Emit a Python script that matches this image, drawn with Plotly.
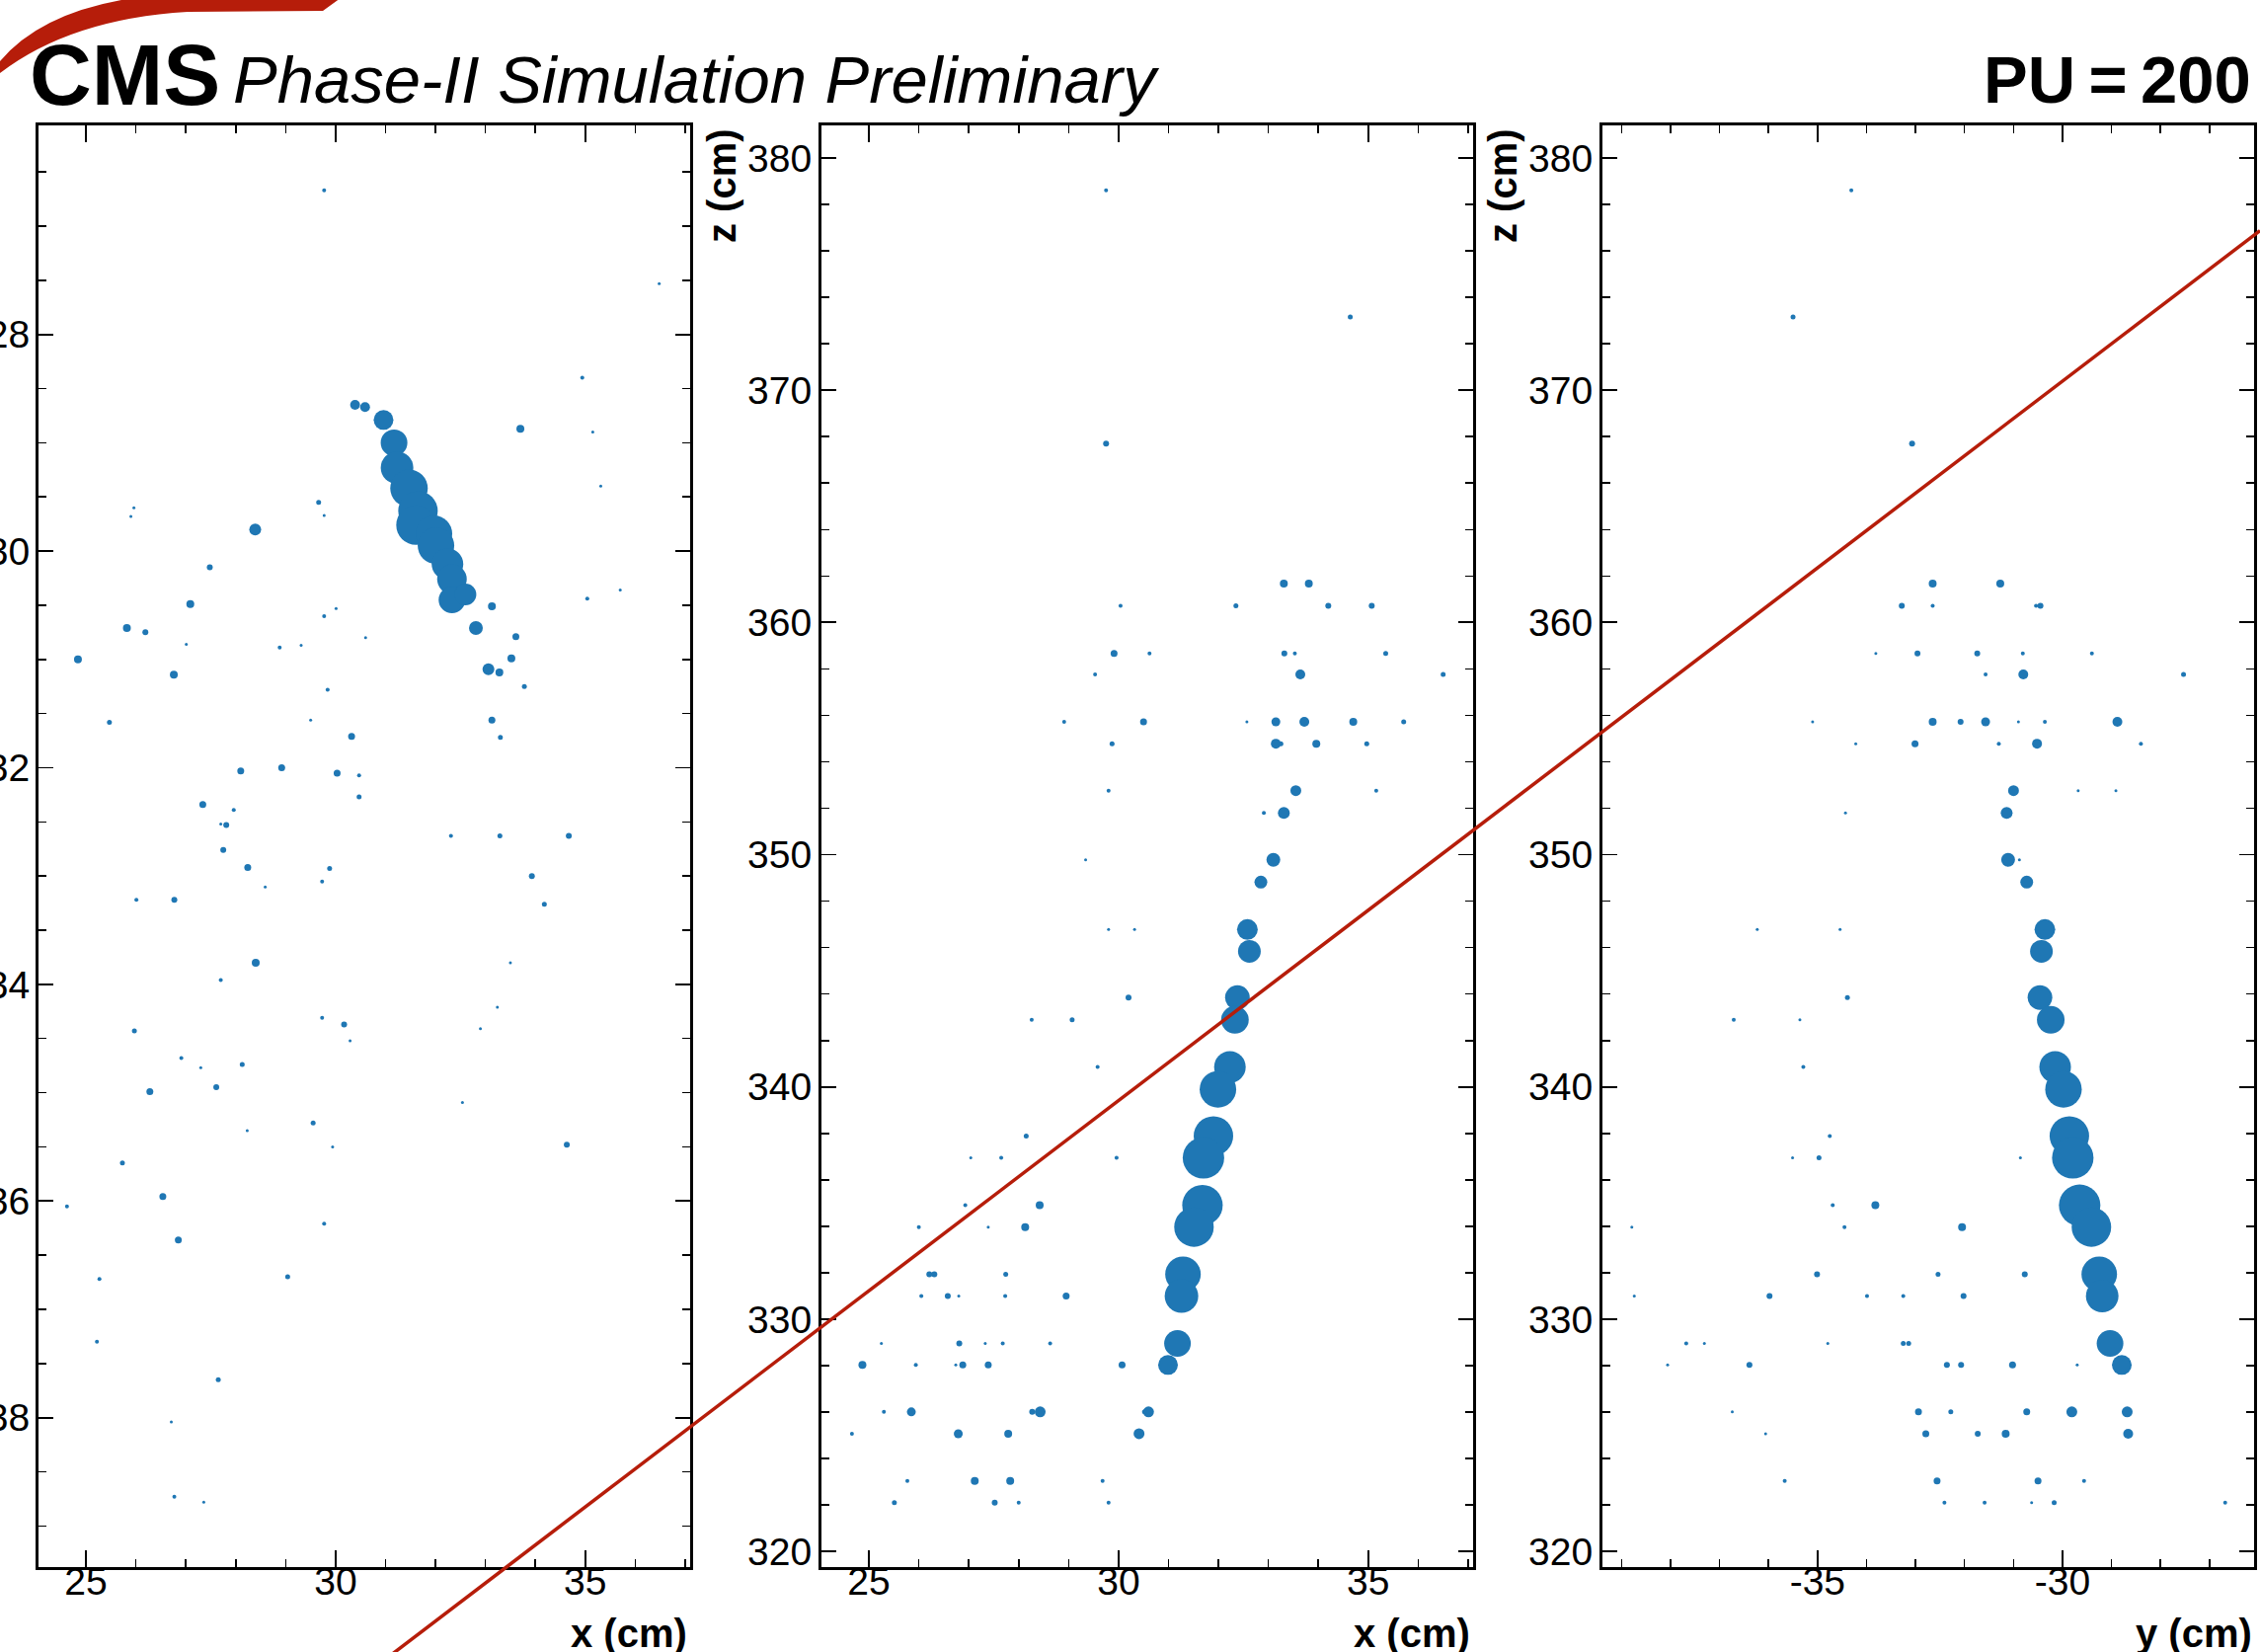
import plotly.graph_objects as go

W, H = 2289, 1673
BLUE = "rgb(31,119,180)"
RED = "#b61d0a"
FONT = "Liberation Sans, Arial, Helvetica, sans-serif"

# ---------------- Panel 1: x-y view ----------------
p1_x = [29.77, 36.48, 34.94, 35.15, 33.70, 35.31,
        30.39, 30.59, 30.96, 31.17, 31.23, 31.47, 31.65, 31.61, 31.97, 32.01,
        32.24, 32.33, 32.33, 32.60, 32.81, 33.13, 33.06, 33.28, 33.52, 33.61,
        28.39, 33.78, 33.13, 33.30, 29.66, 29.77, 25.96, 25.90, 27.48, 27.09,
        25.82, 26.19, 24.84, 26.76, 27.01, 28.88, 29.31, 29.77, 30.01, 30.60,
        29.84, 29.50, 25.47, 35.04, 35.70, 30.32, 28.10, 28.92, 30.03, 30.47,
        30.47, 27.34, 27.96, 27.70, 27.81, 27.75, 28.24, 29.88, 29.73, 28.59,
        32.31, 33.29, 34.67, 33.93,
        34.18, 26.01, 26.77, 28.40, 33.50, 27.70, 33.24, 29.73, 30.17, 30.29,
        32.90, 25.97, 26.91, 27.30, 28.13, 26.28, 27.61, 32.54, 29.55, 28.23,
        29.94, 34.63, 25.73, 26.54, 24.62, 29.77, 26.85, 25.27, 29.04, 25.22,
        27.65, 26.71, 26.77, 27.36]
p1_y = [-26.67, -27.53, -28.40, -28.90, -28.87, -29.40,
        -28.65, -28.67, -28.79, -29.00, -29.23, -29.42, -29.63, -29.76, -29.84, -29.95,
        -30.12, -30.26, -30.45, -30.40, -30.71, -30.51, -31.09, -31.12, -30.99, -30.79,
        -29.80, -31.25, -31.56, -31.72, -29.55, -29.67, -29.60, -29.68, -30.15, -30.49,
        -30.71, -30.75, -31.00, -31.14, -30.86, -30.89, -30.87, -30.60, -30.53, -30.80,
        -31.28, -31.56, -31.58, -30.44, -30.36, -31.71, -32.03, -32.00, -32.05, -32.07,
        -32.27, -32.34, -32.39, -32.52, -32.53, -32.76, -32.92, -32.93, -33.05, -33.10,
        -32.63, -32.63, -32.63, -33.00,
        -33.26, -33.22, -33.22, -33.80, -33.80, -33.96, -34.21, -34.31, -34.37, -34.52,
        -34.41, -34.43, -34.68, -34.77, -34.74, -34.99, -34.95, -35.09, -35.28, -35.35,
        -35.50, -35.48, -35.65, -35.96, -36.05, -36.21, -36.36, -36.72, -36.70, -37.30,
        -37.65, -38.04, -38.73, -38.78]
p1_s = [4, 3, 4, 3, 8, 3,
        10, 10, 20, 27, 33, 38, 40, 40, 37, 37,
        32, 30, 27, 22, 14, 8, 12, 8, 8, 7,
        12, 5, 7, 5, 5, 3, 3, 3, 6, 8,
        8, 6, 8, 8, 3, 4, 3, 4, 3, 3,
        4, 3, 5, 4, 3, 7, 7, 7, 7, 4,
        5, 7, 4, 3, 6, 6, 7, 5, 4, 3,
        4, 5, 6, 6,
        5, 4, 6, 8, 3, 4, 3, 4, 6, 3,
        3, 5, 4, 3, 5, 7, 6, 3, 5, 3,
        3, 6, 5, 7, 4, 4, 7, 4, 5, 4,
        5, 3, 4, 3]

# ---------------- Panel 2: x-z view ----------------
p2_x = [29.75, 34.64, 29.75, 33.31, 33.81, 30.04, 32.35, 34.20, 35.07, 29.91,
        30.62, 33.32, 33.53, 35.35, 29.53, 33.64, 36.50, 28.91, 30.50, 32.57,
        33.15, 33.72, 34.70, 35.71, 29.87, 33.15, 33.25, 33.96, 34.97, 29.80,
        33.55, 35.16, 32.91, 33.31, 29.34, 33.10, 32.85, 32.58, 32.62, 29.80,
        30.32, 32.38, 30.20, 32.33, 28.26, 29.07, 32.23, 29.58, 31.99, 31.90,
        31.70, 28.15, 27.04, 27.65, 29.96, 31.68, 31.51, 26.93, 28.42, 26.00,
        27.39, 28.13, 31.29, 31.26, 26.21, 26.31, 27.74, 26.05, 26.58, 26.80,
        27.73, 28.95, 31.18, 25.25, 26.81, 27.33, 27.68, 28.63, 30.99, 24.87,
        25.94, 26.74, 26.88, 27.39, 30.07, 30.60, 30.52, 25.30, 25.85, 28.27,
        28.43, 24.66, 26.79, 27.79, 30.41, 25.77, 27.12, 27.83, 29.68, 25.51,
        27.52, 28.00, 29.80]
p2_z = [378.60, 373.15, 367.70, 361.67, 361.67, 360.72, 360.72, 360.72, 360.72, 358.67,
        358.67, 358.67, 358.67, 358.67, 357.76, 357.76, 357.76, 355.72, 355.72, 355.72,
        355.72, 355.72, 355.72, 355.72, 354.78, 354.78, 354.78, 354.78, 354.78, 352.76,
        352.76, 352.76, 351.80, 351.80, 349.78, 349.78, 348.82, 346.78, 345.84, 346.78,
        346.78, 343.85, 343.85, 342.89, 342.89, 342.89, 340.86, 340.86, 339.90, 337.89,
        336.95, 337.89, 336.95, 336.95, 336.95, 334.91, 333.97, 334.91, 334.91, 333.97,
        333.97, 333.97, 331.94, 331.00, 331.94, 331.94, 331.94, 331.00, 331.00, 331.00,
        331.00, 331.00, 328.96, 328.96, 328.96, 328.96, 328.96, 328.96, 328.03, 328.03,
        328.03, 328.03, 328.03, 328.03, 328.03, 326.01, 326.01, 326.01, 326.01, 326.01,
        326.01, 325.07, 325.07, 325.07, 325.07, 323.04, 323.04, 323.04, 323.04, 322.10,
        322.10, 322.10, 322.10]
p2_s = [4, 5, 6, 8, 8, 4, 5, 6, 6, 7,
        4, 6, 4, 5, 4, 10, 5, 4, 7, 3,
        9, 10, 8, 5, 5, 10, 5, 8, 5, 4,
        11, 4, 4, 12, 3, 14, 13, 21, 23, 3,
        3, 25, 6, 28, 4, 5, 32, 4, 37, 40,
        42, 5, 3, 4, 4, 41, 40, 4, 8, 4,
        3, 8, 36, 34, 6, 6, 5, 4, 6, 3,
        4, 7, 27, 3, 6, 3, 4, 4, 20, 8,
        4, 3, 7, 7, 7, 11, 5, 4, 9, 6,
        11, 4, 9, 8, 11, 4, 8, 8, 4, 5,
        6, 4, 4]

# ---------------- Panel 3: y-z view ----------------
p3_y = [-34.31, -35.50, -33.07, -32.65, -31.27, -33.28, -32.65, -30.54, -30.45, -33.81,
        -32.96, -31.74, -30.81, -29.40, -31.57, -30.80, -27.53, -35.10, -32.65, -32.08,
        -31.57, -30.90, -30.36, -28.88, -34.22, -33.01, -31.30, -30.52, -28.40, -31.00,
        -29.68, -28.91, -34.43, -31.14, -31.11, -30.88, -30.73, -30.36, -30.43, -36.23,
        -34.54, -30.46, -34.39, -30.24, -36.71, -35.36, -30.15, -35.29, -29.98, -29.86,
        -29.79, -34.75, -35.51, -34.97, -30.86, -29.65, -29.41, -34.69, -33.82, -38.79,
        -34.45, -32.05, -29.25, -29.19, -35.01, -32.54, -30.77, -38.74, -35.98, -33.99,
        -33.25, -32.02, -29.03, -37.68, -37.31, -34.79, -33.25, -33.14, -28.79, -38.06,
        -36.39, -32.36, -32.07, -31.02, -29.70, -28.68, -29.81, -36.74, -32.94, -32.28,
        -30.73, -28.66, -36.06, -32.79, -31.73, -31.16, -35.67, -32.56, -30.50, -29.56,
        -32.41, -31.59, -30.63, -30.17, -26.68]
p3_z = [378.60, 373.15, 367.70, 361.67, 361.67, 360.72, 360.72, 360.72, 360.72, 358.67,
        358.67, 358.67, 358.67, 358.67, 357.76, 357.76, 357.76, 355.72, 355.72, 355.72,
        355.72, 355.72, 355.72, 355.72, 354.78, 354.78, 354.78, 354.78, 354.78, 352.76,
        352.76, 352.76, 351.80, 351.80, 349.78, 349.78, 348.82, 346.78, 345.84, 346.78,
        346.78, 343.85, 343.85, 342.89, 342.89, 342.89, 340.86, 340.86, 339.90, 337.89,
        336.95, 337.89, 336.95, 336.95, 336.95, 334.91, 333.97, 334.91, 334.91, 333.97,
        333.97, 333.97, 331.94, 331.00, 331.94, 331.94, 331.94, 331.00, 331.00, 331.00,
        331.00, 331.00, 328.96, 328.96, 328.96, 328.96, 328.96, 328.96, 328.03, 328.03,
        328.03, 328.03, 328.03, 328.03, 328.03, 326.01, 326.01, 326.01, 326.01, 326.01,
        326.01, 325.07, 325.07, 325.07, 325.07, 325.07, 323.04, 323.04, 323.04, 323.04,
        322.10, 322.10, 322.10, 322.10, 322.10]
p3_s = [4, 5, 6, 8, 8, 6, 4, 4, 6, 3,
        6, 6, 4, 4, 4, 10, 5, 3, 8, 6,
        9, 3, 4, 10, 3, 7, 4, 10, 4, 11,
        3, 3, 3, 12, 14, 3, 13, 21, 23, 3,
        3, 25, 5, 28, 4, 3, 32, 4, 37, 40,
        42, 4, 3, 5, 3, 42, 40, 4, 8, 3,
        4, 8, 36, 33, 6, 5, 6, 3, 6, 4,
        4, 6, 27, 4, 3, 3, 5, 5, 20, 3,
        6, 6, 6, 7, 3, 11, 11, 3, 7, 5,
        7, 10, 3, 7, 6, 8, 4, 7, 7, 4,
        4, 4, 3, 5, 4]

# tick definitions
x_ticks = [25, 30, 35]
x_ticktext = ["25", "30", "35"]
y1_ticks = [-38, -36, -34, -32, -30, -28]
y1_ticktext = ["-38", "-36", "-34", "-32", "-30", "-28"]
z_ticks = [320, 330, 340, 350, 360, 370, 380]
z_ticktext = ["320", "330", "340", "350", "360", "370", "380"]
y3_ticks = [-35, -30]
y3_ticktext = ["-35", "-30"]


def fx(p):
    return p / W


def fy(p):
    return 1 - p / H


fig = go.Figure()
mk = dict(color=BLUE, line=dict(width=0), opacity=1)
fig.add_trace(go.Scatter(x=p1_x, y=p1_y, mode="markers", marker=dict(size=p1_s, **mk),
                         xaxis="x", yaxis="y", showlegend=False, hoverinfo="skip"))
fig.add_trace(go.Scatter(x=p2_x, y=p2_z, mode="markers", marker=dict(size=p2_s, **mk),
                         xaxis="x2", yaxis="y2", showlegend=False, hoverinfo="skip"))
fig.add_trace(go.Scatter(x=p3_y, y=p3_z, mode="markers", marker=dict(size=p3_s, **mk),
                         xaxis="x3", yaxis="y3", showlegend=False, hoverinfo="skip"))

common = dict(showline=True, linewidth=3, linecolor="black", mirror="allticks",
              ticks="inside", tickcolor="black", tickwidth=1.8, showgrid=False,
              zeroline=False, fixedrange=True, tickmode="array", automargin=False,
              tickfont=dict(family=FONT, size=39, color="black"))

dom_y = [fy(1587), fy(127)]
xdoms = [[fx(39), fx(699)], [fx(832), fx(1492)], [fx(1623), fx(2283)]]

xminor = dict(tickmode="linear", dtick=1, tick0=0, ticks="inside", ticklen=8,
              tickwidth=1.5, tickcolor="black")
XSTAND = -22

fig.update_layout(
    template="none",
    width=W, height=H, autosize=False,
    margin=dict(l=0, r=0, t=0, b=0, pad=0),
    paper_bgcolor="white", plot_bgcolor="white",
    xaxis=dict(domain=xdoms[0], range=[24.05, 37.1], anchor="y", tickvals=x_ticks,
               ticktext=x_ticktext, ticklen=17, minor=xminor, ticklabelstandoff=XSTAND, **common),
    yaxis=dict(domain=dom_y, range=[-39.38, -26.07], anchor="x", tickvals=y1_ticks,
               ticktext=y1_ticktext, ticklen=15, ticklabelstandoff=-2,
               minor=dict(tickmode="linear", dtick=0.5, tick0=0, ticks="inside", ticklen=8,
                          tickwidth=1.5, tickcolor="black"), **common),
    xaxis2=dict(domain=xdoms[1], range=[24.05, 37.1], anchor="y2", tickvals=x_ticks,
                ticktext=x_ticktext, ticklen=17, minor=xminor, ticklabelstandoff=XSTAND, **common),
    yaxis2=dict(domain=dom_y, range=[319.33, 381.4], anchor="x2", tickvals=z_ticks,
                ticktext=z_ticktext, ticklen=15, ticklabelstandoff=-1,
                minor=dict(tickmode="linear", dtick=2, tick0=0, ticks="inside", ticklen=8,
                           tickwidth=1.5, tickcolor="black"), **common),
    xaxis3=dict(domain=xdoms[2], range=[-39.39, -26.09], anchor="y3", tickvals=y3_ticks,
                ticktext=y3_ticktext, ticklen=17, minor=xminor, ticklabelstandoff=XSTAND, **common),
    yaxis3=dict(domain=dom_y, range=[319.33, 381.4], anchor="x3", tickvals=z_ticks,
                ticktext=z_ticktext, ticklen=15, ticklabelstandoff=-1,
                minor=dict(tickmode="linear", dtick=2, tick0=0, ticks="inside", ticklen=8,
                           tickwidth=1.5, tickcolor="black"), **common),
)

ann = []
# header
ann.append(dict(text="CMS", x=fx(29), y=fy(75), xanchor="left", yanchor="middle",
                font=dict(family=FONT, size=87, color="black", weight="bold")))
ann.append(dict(text="Phase-II Simulation Preliminary", x=fx(235), y=fy(81), xanchor="left",
                yanchor="middle", font=dict(family=FONT, size=67, color="black", style="italic")))
ann.append(dict(text="PU\u2009=\u2009200", x=fx(2281), y=fy(81), xanchor="right", yanchor="middle",
                font=dict(family=FONT, size=67, color="black", weight="bold")))
# axis titles
for xr, t in [(697, "x (cm)"), (1490, "x (cm)"), (2282, "y (cm)")]:
    ann.append(dict(text=t, x=fx(xr), y=fy(1654), xanchor="right", yanchor="middle",
                    font=dict(family=FONT, size=40, color="black", weight="bold")))
for xc in [731, 1522]:
    ann.append(dict(text="z (cm)", x=fx(xc), y=fy(129), xanchor="center", yanchor="top",
                    textangle=-90, font=dict(family=FONT, size=40, color="black", weight="bold")))
for a in ann:
    a.update(xref="paper", yref="paper", showarrow=False, borderpad=0)
fig.update_layout(annotations=ann)

# overlay: red line and red arc (slide decorations)
line_x0, line_y0 = 380, 1673 + 0.762 * 20
line_x1, line_y1 = 2289, 1673 - 0.762 * (2289 - 400)
fig.add_shape(type="line", xref="paper", yref="paper",
              x0=fx(line_x0), y0=fy(line_y0), x1=fx(line_x1), y1=fy(line_y1),
              line=dict(color=RED, width=3.5), layer="above")

arc = [("M", 0, 62), ("Q", 42, 12, 135, -2), ("L", 345, -2), ("L", 327, 11),
       ("L", 190, 12), ("Q", 72, 19, 0, 74)]
parts = []
for seg in arc:
    cmd, *vals = seg
    pts = []
    for i in range(0, len(vals), 2):
        pts.append(f"{fx(vals[i]):.5f},{fy(vals[i+1]):.5f}")
    parts.append(cmd + " " + " ".join(pts))
path = " ".join(parts) + " Z"
fig.add_shape(type="path", xref="paper", yref="paper", path=path,
              fillcolor=RED, line=dict(width=0), layer="above")

page_js = ("document.documentElement.style.margin='0';document.body.style.margin='0';"
           "document.body.style.padding='0';document.documentElement.style.overflow='hidden';"
           "document.body.style.overflow='hidden';")
fig.write_html("out.html", post_script=page_js,
               config={"displayModeBar": False, "staticPlot": True})
